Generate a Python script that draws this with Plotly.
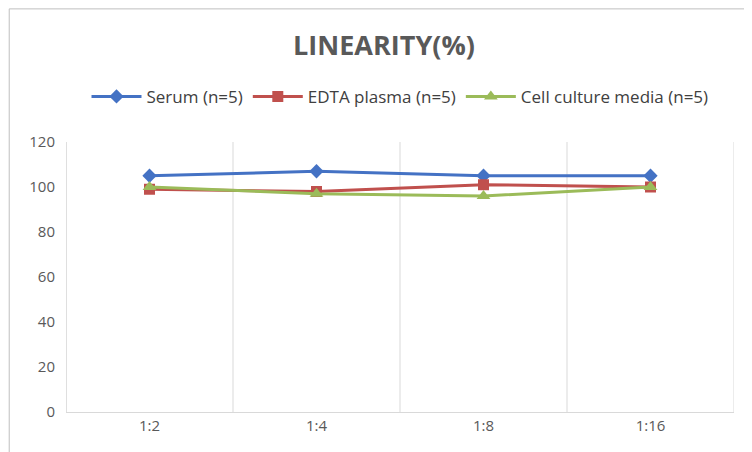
import plotly.graph_objects as go

categories = ["1:2", "1:4", "1:8", "1:16"]
serum = [105, 107, 105, 105]
edta = [99, 98, 101, 100]
cell = [100, 97, 96, 100]
yticks = [0, 20, 40, 60, 80, 100, 120]

xs = list(range(1, len(categories) + 1))
fig = go.Figure()
fig.add_trace(go.Scatter(x=xs, y=serum, name="Serum (n=5)", mode="lines+markers",
                         line=dict(color="#4472C4", width=3), marker=dict(symbol="diamond", size=11)))
fig.add_trace(go.Scatter(x=xs, y=edta, name="EDTA plasma (n=5)", mode="lines+markers",
                         line=dict(color="#C0504D", width=3), marker=dict(symbol="square", size=11)))
fig.add_trace(go.Scatter(x=xs, y=cell, name="Cell culture media (n=5)", mode="lines+markers",
                         line=dict(color="#9BBB59", width=3), marker=dict(symbol="triangle-up", size=12)))

for b in [1.5, 2.5, 3.5, 4.5]:
    fig.add_shape(type="line", xref="x", yref="paper", x0=b, x1=b, y0=0, y1=1,
                  line=dict(color="#D9D9D9", width=1), layer="below")
fig.add_shape(type="line", xref="x", yref="paper", x0=0.5, x1=0.5, y0=0, y1=1,
              line=dict(color="#BFBFBF", width=1), layer="below")
fig.add_shape(type="rect", xref="paper", yref="paper", x0=-0.085, x1=1.037, y0=-0.174, y1=1.493,
              line=dict(color="#BFBFBF", width=1))

fig.update_layout(
    width=752, height=452, paper_bgcolor="white", plot_bgcolor="white",
    margin=dict(l=58, r=26, t=134, b=48),
    title=dict(text="<b>LINEARITY(%)</b>", x=0.5, xanchor="center", y=0.916, yanchor="middle",
               font=dict(family="Open Sans", size=27, color="#595959")),
    legend=dict(orientation="h", x=0.5, xanchor="center", y=1.167, yanchor="middle",
                font=dict(family="Open Sans", size=17, color="#404040"), itemwidth=50),
    font=dict(family="Open Sans", color="#595959"),
    showlegend=True,
)
fig.update_xaxes(range=[0.5, 4.5], tickvals=xs, ticktext=categories, showgrid=False,
                 zeroline=False, showline=True, linecolor="#D9D9D9", tickfont=dict(size=15))
fig.update_yaxes(range=[0, 120], tickvals=yticks, showgrid=False, zeroline=False,
                 tickfont=dict(size=15), ticklabelstandoff=10)
fig.write_html("out.html")
